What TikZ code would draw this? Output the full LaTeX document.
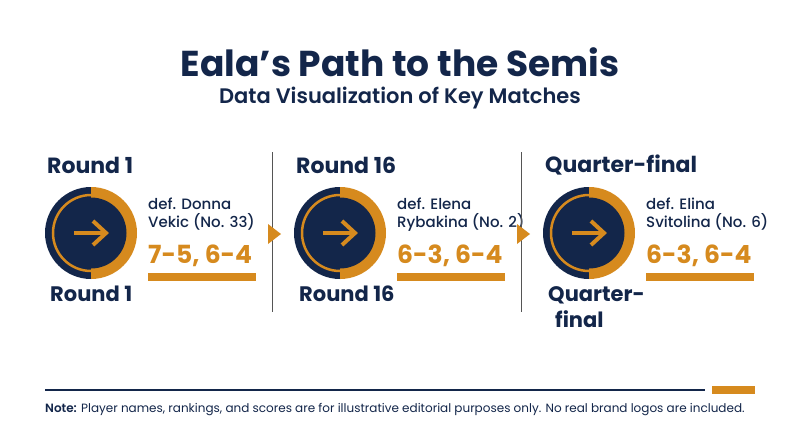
\documentclass[tikz,border=0pt]{standalone}
\usepackage{fontspec}
\setmainfont{Poppins}[BoldFont={* SemiBold}]
\newfontfamily\popb{Poppins}[UprightFont={* Bold}]
\newfontfamily\popm{Poppins}[UprightFont={* Medium}]
\newfontfamily\pops{Poppins}[UprightFont={* SemiBold}]
\definecolor{navy}{HTML}{13264A}
\definecolor{gold}{HTML}{D68A1E}
\definecolor{divg}{HTML}{555555}
\begin{document}
\begin{tikzpicture}[x=1pt,y=-1pt,
  rnd/.style={font=\popb\fontsize{22}{24}\selectfont,text=navy,anchor=west,inner sep=0},
  rndb/.style={font=\popb\fontsize{21}{26}\selectfont,text=navy,anchor=north west,inner sep=0,align=left},
  opp/.style={font=\popm\fontsize{15}{18}\selectfont,text=navy,anchor=north west,inner sep=0,align=left},
  score/.style={font=\popb\fontsize{25}{28}\selectfont,text=gold,anchor=west,inner sep=0}]
\useasboundingbox[fill=white] (0,0) rectangle (800,447);
\node[font=\popb\fontsize{36}{40}\selectfont,text=navy] (title) at (400,62) {Eala’s Path to the Semis};
\node[font=\pops\fontsize{21}{24}\selectfont,text=navy] (sub) at (400,98) {Data Visualization of Key Matches};
\foreach \i/\top/\bot/\a/\b/\s in {0/Round 1/Round 1/def. Donna/Vekic (No. 33)/{7-5, 6-4},
   1/Round 16/Round 16/def. Elena/Rybakina (No. 2)/{6-3, 6-4},
   2/Quarter-final/{Quarter-\\\hspace*{7pt}final}/def. Elina/Svitolina (No. 6)/{6-3, 6-4}}{
  \begin{scope}[xshift=\i*249]
  \node[rnd] (t\i) at (47,165) {\top};
  \fill[navy] (91,279) arc[start angle=90,end angle=270,radius=46] -- cycle;
  \fill[gold] (91,279) arc[start angle=90,end angle=-90,radius=46] -- cycle;
  \draw[gold,line width=2.5] (91,233) circle[radius=38];
  \fill[navy] (91,233) circle[radius=35.5];
  \draw[gold,line width=4] (74,233) -- (104,233);
  \draw[gold,line width=4,line cap=butt,line join=miter] (93,221) -- (106,233) -- (93,245);
  \node[opp] (o\i) at (148,198) {\a\\\b};
  \node[score] (s\i) at (148,256) {\s};
  \fill[gold] (148,273) rectangle (256,281);
  \node[rndb] (b\i) at (50,286) {\bot};
  \end{scope}}
\draw[divg,line width=1] (272,152) -- (272,312);
\draw[divg,line width=1] (521,152) -- (521,312);
\fill[gold] (268,224) -- (281,234) -- (268,244) -- cycle;
\fill[gold] (517,224) -- (530,234) -- (517,244) -- cycle;
\draw[navy,line width=2] (45,390) -- (705,390);
\fill[gold] (712,386) rectangle (755,394);
\node[anchor=west,inner sep=0,font=\fontsize{12}{14}\selectfont,text=navy] (note) at (45,410) {\textbf{Note:} Player names, rankings, and scores are for illustrative editorial purposes only. No real brand logos are included.};
\end{tikzpicture}
\end{document}
